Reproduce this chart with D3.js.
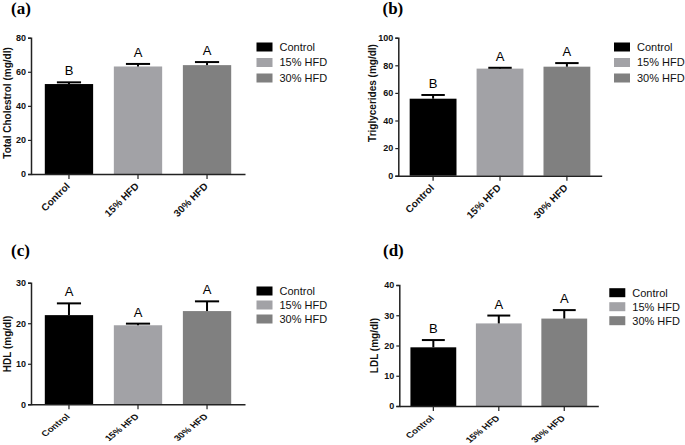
<!DOCTYPE html>
<html><head><meta charset="utf-8">
<script src="https://cdn.jsdelivr.net/npm/d3@7"></script>
<style>
html,body{margin:0;padding:0;background:#fff;}
svg{display:block;}
</style></head>
<body>
<svg id="chart" width="685" height="445"></svg>
<script>
// ---- data ----
const categories = ["Control", "15% HFD", "30% HFD"];
const colors = ["#000000", "#a2a2a6", "#808080"];

const tcMean = [52.8, 63.1, 63.9];
const tcErr  = [1.0, 1.5, 1.8];
const tcLetters = ["B", "A", "A"];
const tcTicks = [0, 20, 40, 60, 80];

const tgMean = [55.8, 77.6, 79.0];
const tgErr  = [2.7, 0.6, 2.6];
const tgLetters = ["B", "A", "A"];
const tgTicks = [0, 20, 40, 60, 80, 100];

const hdlMean = [22.0, 19.5, 23.0];
const hdlErr  = [2.9, 0.4, 2.4];
const hdlLetters = ["A", "A", "A"];
const hdlTicks = [0, 10, 20, 30];

const ldlMean = [19.4, 27.3, 28.9];
const ldlErr  = [2.4, 2.6, 2.8];
const ldlLetters = ["B", "A", "A"];
const ldlTicks = [0, 10, 20, 30, 40];

const panelTitles = ["(a)", "(b)", "(c)", "(d)"];
const yLabels = ["Total Cholestrol (mg/dl)", "Triglycerides (mg/dl)", "HDL (mg/dl)", "LDL (mg/dl)"];

const svg = d3.select("#chart");

function drawPanel(cfg) {
  const {mean, err, letters, ticks, x0, x1, y0, y1, title, titleX, titleY,
         ylabel, ylabelX, ylabelY, legX, legY, legStep, padO, sq} = cfg;
  const g = svg.append("g");
  const x = d3.scaleBand().domain(categories).range([x0, x1]).paddingInner(0.3).paddingOuter(padO);
  const y = d3.scaleLinear().domain([0, ticks[ticks.length - 1]]).range([y0, y1]);

  // bars
  g.selectAll("rect.bar").data(categories).join("rect")
    .attr("class", "bar")
    .attr("x", d => x(d)).attr("width", x.bandwidth())
    .attr("y", (d, i) => y(mean[i])).attr("height", (d, i) => y0 - y(mean[i]))
    .attr("fill", (d, i) => colors[i]);

  // error bars (upper only)
  const eb = g.selectAll("g.eb").data(categories).join("g").attr("class", "eb");
  eb.append("line")
    .attr("x1", d => x(d) + x.bandwidth() / 2).attr("x2", d => x(d) + x.bandwidth() / 2)
    .attr("y1", (d, i) => y(mean[i])).attr("y2", (d, i) => y(mean[i] + err[i]))
    .attr("stroke", "#000").attr("stroke-width", 2);
  eb.append("line")
    .attr("x1", d => x(d) + x.bandwidth() / 4).attr("x2", d => x(d) + x.bandwidth() * 3 / 4)
    .attr("y1", (d, i) => y(mean[i] + err[i])).attr("y2", (d, i) => y(mean[i] + err[i]))
    .attr("stroke", "#000").attr("stroke-width", 2);

  // letters
  g.selectAll("text.letter").data(categories).join("text")
    .attr("class", "letter")
    .attr("x", d => x(d) + x.bandwidth() / 2)
    .attr("y", (d, i) => y(mean[i] + err[i]) - 7)
    .attr("text-anchor", "middle")
    .style("font", "13px Arial, 'Liberation Sans', sans-serif")
    .text((d, i) => letters[i]);

  // y axis
  const ya = g.append("g").attr("transform", `translate(${x0},0)`)
    .call(d3.axisLeft(y).tickValues(ticks).tickSize(3).tickPadding(2).tickFormat(d3.format("d")));
  ya.select(".domain").attr("stroke", "#222").attr("stroke-width", 1.5);
  ya.selectAll(".tick line").attr("stroke", "#222").attr("stroke-width", 1.2);
  ya.selectAll("text").style("font", "bold 9px Arial, 'Liberation Sans', sans-serif").attr("fill", "#111");

  // x axis
  const xa = g.append("g").attr("transform", `translate(0,${y0})`)
    .call(d3.axisBottom(x).tickSize(5).tickSizeOuter(0));
  xa.select(".domain").attr("stroke", "#222").attr("stroke-width", 1.5);
  xa.selectAll(".tick line").attr("stroke", "#222").attr("stroke-width", 1.2);
  xa.selectAll("text")
    .style("font", "bold 10px Arial, 'Liberation Sans', sans-serif").attr("fill", "#111")
    .attr("text-anchor", "end")
    .attr("dy", 0).attr("y", 0).attr("x", 0)
    .attr("transform", `translate(1.5,12.8) scale(1,${sq}) rotate(-45)`);

  // y label
  g.append("text")
    .attr("transform", `translate(${ylabelX},${ylabelY}) rotate(-90)`)
    .attr("text-anchor", "middle").attr("dy", "0.35em")
    .style("font", "bold 10px Arial, 'Liberation Sans', sans-serif").attr("fill", "#111")
    .text(ylabel);

  // title
  g.append("text").attr("x", titleX).attr("y", titleY)
    .style("font", "bold 17px 'Times New Roman', 'Liberation Serif', serif")
    .text(title);

  // legend
  const lg = g.selectAll("g.leg").data(categories).join("g").attr("class", "leg")
    .attr("transform", (d, i) => `translate(${legX},${legY + i * legStep})`);
  lg.append("rect").attr("x", 0).attr("y", -4.5).attr("width", 16).attr("height", 9)
    .attr("fill", (d, i) => colors[i]);
  lg.append("text").attr("x", 23).attr("y", 0).attr("dy", "0.35em")
    .style("font", "11px Arial, 'Liberation Sans', sans-serif").attr("fill", "#111")
    .text(d => d);
}

drawPanel({mean: tcMean, err: tcErr, letters: tcLetters, ticks: tcTicks,
  x0: 31, x1: 245, y0: 174, y1: 37.7, padO: 0.2, sq: 1,
  title: panelTitles[0], titleX: 11, titleY: 14,
  ylabel: yLabels[0], ylabelX: 7.5, ylabelY: 103,
  legX: 256.5, legY: 47, legStep: 15.5});

drawPanel({mean: tgMean, err: tgErr, letters: tgLetters, ticks: tgTicks,
  x0: 398.3, x1: 601.7, y0: 175.7, y1: 37.7, padO: 0.17, sq: 1,
  title: panelTitles[1], titleX: 382.5, titleY: 14,
  ylabel: yLabels[1], ylabelX: 372.3, ylabelY: 93,
  legX: 614, legY: 47, legStep: 15.5});

drawPanel({mean: hdlMean, err: hdlErr, letters: hdlLetters, ticks: hdlTicks,
  x0: 31, x1: 245, y0: 404.3, y1: 282.7, padO: 0.2, sq: 0.8,
  title: panelTitles[2], titleX: 11, titleY: 256,
  ylabel: yLabels[2], ylabelX: 7.5, ylabelY: 344,
  legX: 256.5, legY: 291, legStep: 14});

drawPanel({mean: ldlMean, err: ldlErr, letters: ldlLetters, ticks: ldlTicks,
  x0: 399.3, x1: 598.3, y0: 406, y1: 285, padO: 0.17, sq: 0.8,
  title: panelTitles[3], titleX: 383, titleY: 256,
  ylabel: yLabels[3], ylabelX: 374.3, ylabelY: 345.5,
  legX: 609.3, legY: 292.7, legStep: 14});
</script>
</body></html>
